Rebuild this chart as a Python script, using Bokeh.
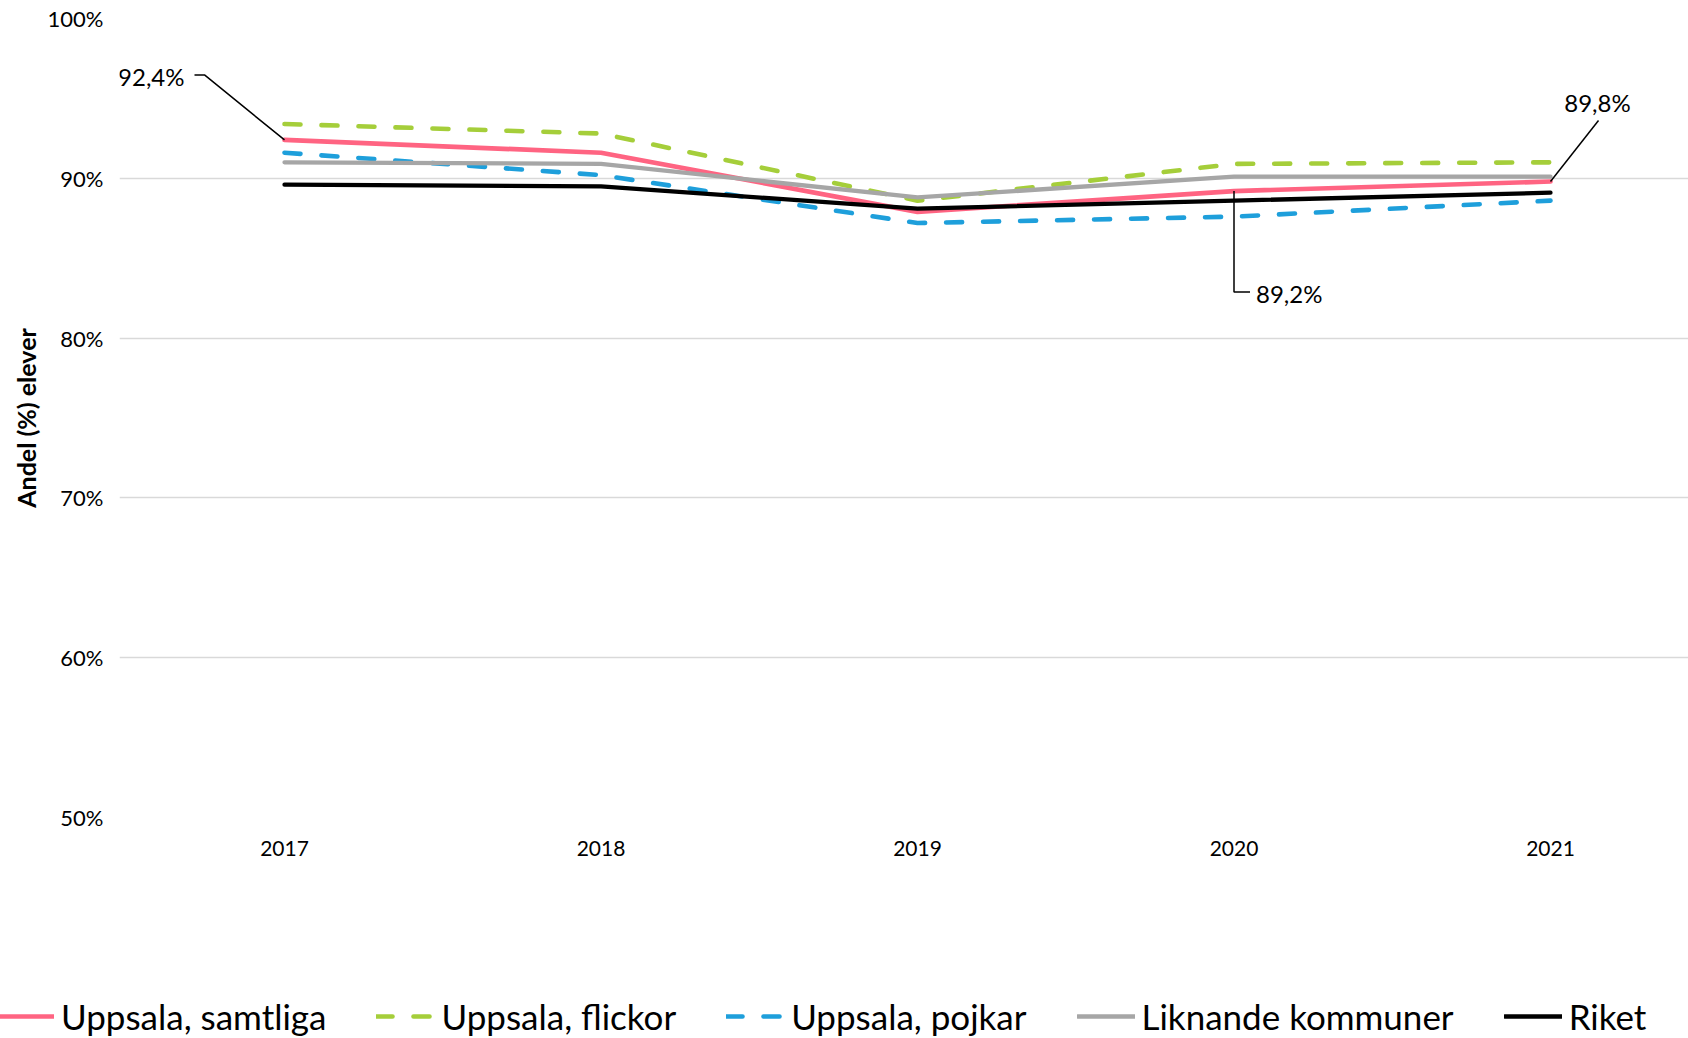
from bokeh.plotting import figure
from bokeh.layouts import column
from bokeh.models import FixedTicker, Legend, LegendItem, Range1d
from bokeh.core.properties import value
from bokeh.embed import file_html
from bokeh.resources import INLINE

# ---------------- data ----------------
years = [2017, 2018, 2019, 2020, 2021]
year_labels = ["2017", "2018", "2019", "2020", "2021"]

uppsala_samtliga = [92.4, 91.6, 87.9, 89.2, 89.8]
uppsala_flickor = [93.4, 92.8, 88.6, 90.9, 91.0]
uppsala_pojkar = [91.6, 90.2, 87.2, 87.6, 88.6]
liknande_kommuner = [91.0, 90.9, 88.8, 90.1, 90.1]
riket = [89.6, 89.5, 88.1, 88.6, 89.1]

series_names = ["Uppsala, samtliga", "Uppsala, flickor", "Uppsala, pojkar",
                "Liknande kommuner", "Riket"]

y_ticks = [50, 60, 70, 80, 90, 100]
y_tick_labels = ["50%", "60%", "70%", "80%", "90%", "100%"]
y_title = "Andel (%) elever"

# indices of Uppsala, samtliga values that carry a data label
labelled_idx = [0, 3, 4]

# ---------------- styling ----------------
FONT = "Lato"
colors = ["#FF6482", "#A5CE3A", "#1E9FDB", "#A6A6A6", "#000000"]
dashes = ["solid", "16 21", "16 21", "solid", "solid"]
widths = [4.7, 4.6, 4.6, 4.3, 4.3]

W = 1688
H1 = 870            # main chart height
H2 = 1038 - H1      # legend strip height
BL, BR, BT = 119, 0, 18
FH = 799
BB = H1 - BT - FH
X_FIRST_PX = 284 - BL   # pixel position of first year inside frame
STEP = 316.5            # pixels per year
FW = W - BL - BR
X0 = years[0] - X_FIRST_PX / STEP
X1 = X0 + FW / STEP
Y0, Y1 = 50, 100
PX = (X1 - X0) / FW   # data units per pixel (x)
PY = (Y1 - Y0) / FH   # data units per pixel (y)

p = figure(width=W, height=H1, output_backend="svg", toolbar_location=None,
           x_range=Range1d(X0, X1), y_range=Range1d(Y0, Y1),
           min_border_left=BL, min_border_right=BR,
           min_border_top=BT, min_border_bottom=BB)
p.frame_align = False
p.outline_line_color = None
p.background_fill_color = "white"
p.border_fill_color = "white"

# grid
p.xgrid.grid_line_color = None
p.ygrid.ticker = FixedTicker(ticks=y_ticks)
p.ygrid.grid_line_color = "#D9D9D9"
p.ygrid.grid_line_width = 1.6

# axes
for ax in (p.xaxis[0], p.yaxis[0]):
    ax.axis_line_color = None
    ax.major_tick_line_color = None
    ax.minor_tick_line_color = None
    ax.major_label_text_font = FONT
    ax.major_label_text_color = "#000000"

p.xaxis.major_label_text_font_size = "21px"
p.yaxis.major_label_text_font_size = "22px"

p.yaxis.ticker = FixedTicker(ticks=y_ticks)
p.yaxis.major_label_overrides = {t: l for t, l in zip(y_ticks, y_tick_labels)}
p.yaxis.major_tick_out = 0
p.yaxis.major_tick_in = 0
p.yaxis.minor_tick_out = 0
p.yaxis.major_label_standoff = 16
p.yaxis.axis_label = y_title
p.yaxis.axis_label_text_font = FONT
p.yaxis.axis_label_text_font_style = "bold"
p.yaxis.axis_label_text_font_size = "25px"
p.yaxis.axis_label_text_color = "#000000"
p.yaxis.axis_label_standoff = 4

p.xaxis.ticker = FixedTicker(ticks=years)
p.xaxis.major_label_overrides = {y: l for y, l in zip(years, year_labels)}
p.xaxis.major_label_standoff = 17

# lines
all_series = [uppsala_samtliga, uppsala_flickor, uppsala_pojkar, liknande_kommuner, riket]
for vals, c, d, w in zip(all_series, colors, dashes, widths):
    p.line(years, vals, line_color=c, line_width=w, line_dash=d,
           line_cap="round", line_join="round")

# data labels with leader lines (pixel offsets converted to data units)
def fmt(v):
    return ("%.1f%%" % v).replace(".", ",")

LBL = dict(text_font=value(FONT), text_font_size="24px", text_baseline="middle",
           text_color="black")

# label 1: 2017, up-left
i = labelled_idx[0]
x, y = years[i], uppsala_samtliga[i]
p.line([x, x - 80 * PX, x - 90 * PX], [y, y + 65 * PY, y + 65 * PY],
       line_color="black", line_width=1.5)
p.text([x - 100 * PX], [y + 63 * PY], text=[fmt(y)], text_align="right", **LBL)

# label 2: 2020, below
i = labelled_idx[1]
x, y = years[i], uppsala_samtliga[i]
p.line([x, x, x + 16 * PX], [y, y - 101 * PY, y - 101 * PY],
       line_color="black", line_width=1.5)
p.text([x + 22 * PX], [y - 102 * PY], text=[fmt(y)], text_align="left", **LBL)

# label 3: 2021, up-right
i = labelled_idx[2]
x, y = years[i], uppsala_samtliga[i]
p.line([x, x + 48 * PX], [y, y + 61 * PY], line_color="black", line_width=1.5)
p.text([x + 47 * PX], [y + 79 * PY], text=[fmt(y)], text_align="center", **LBL)

# ---------------- legend strip ----------------
# same series, drawn in a strip whose ranges keep the data out of view,
# so only the legend entries are visible there
q = figure(width=W, height=H2, output_backend="svg", toolbar_location=None,
           x_range=Range1d(0, 1), y_range=Range1d(0, 1),
           min_border=0, x_axis_location=None, y_axis_location=None)
q.frame_align = False
q.outline_line_color = None
q.grid.visible = False
q.background_fill_color = "white"
q.border_fill_color = "white"

leg_renderers = []
for vals, c, d, w in zip(all_series, colors, dashes, widths):
    leg_renderers.append(q.line(years, vals, line_color=c, line_width=w, line_dash=d,
                                line_cap="round", line_join="round"))

legend = Legend(items=[LegendItem(label=n, renderers=[r])
                       for n, r in zip(series_names, leg_renderers)],
                orientation="horizontal", location=(-4, 1),
                label_text_font=FONT, label_text_font_size="35px",
                label_text_color="black",
                glyph_width=58, glyph_height=30, label_standoff=7, spacing=50,
                padding=0, margin=0, border_line_alpha=0,
                background_fill_alpha=0)
q.add_layout(legend, "center")

layout = column(p, q, spacing=0)
open("out.html", "w").write(file_html(layout, INLINE))
